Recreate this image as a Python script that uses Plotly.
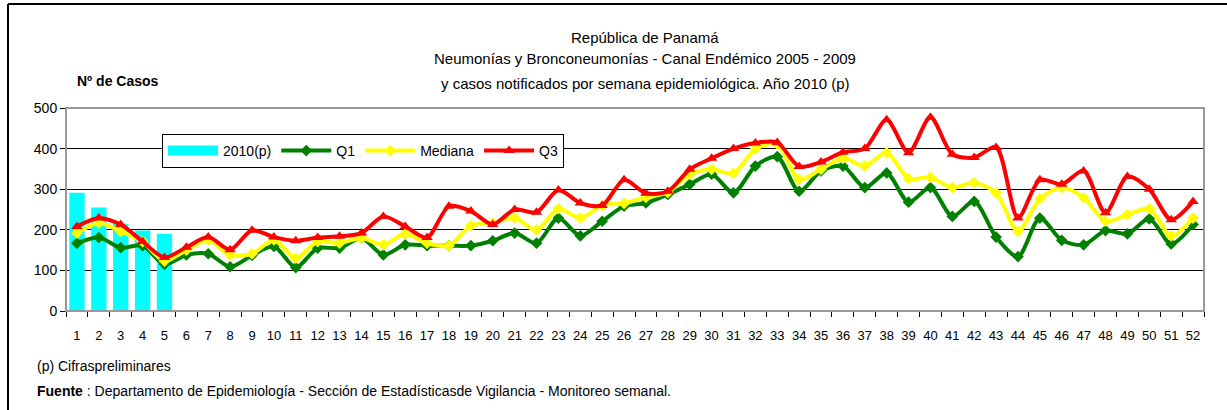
import plotly.graph_objects as go

weeks = [str(i) for i in range(1, 53)]

casos_2010 = [291, 255, 215, 198, 190]

q1 = [167, 181, 156, 161, 115, 138, 141, 109, 137, 159,
      107, 155, 155, 180, 138, 163, 161, 161, 161, 173,
      192, 167, 229, 185, 221, 258, 266, 287, 312, 337,
      291, 357, 380, 295, 345, 357, 304, 340, 268, 304,
      233, 270, 182, 134, 229, 174, 163, 198, 190, 227,
      165, 213]

mediana = [192, 217, 196, 171, 123, 150, 175, 138, 141, 175,
           130, 171, 167, 180, 163, 190, 167, 161, 210, 217,
           229, 199, 252, 229, 260, 265, 280, 292, 337, 349,
           339, 399, 411, 324, 349, 376, 357, 390, 326, 329,
           304, 316, 291, 196, 276, 304, 279, 221, 237, 252,
           185, 229]

q3 = [208, 229, 213, 171, 132, 157, 182, 151, 199, 182,
      173, 181, 184, 192, 233, 208, 181, 258, 246, 213,
      250, 243, 298, 266, 260, 323, 290, 295, 349, 376,
      400, 414, 415, 356, 367, 391, 400, 471, 390, 477,
      386, 378, 403, 229, 323, 312, 345, 242, 331, 300,
      225, 270]

title_lines = ["República de Panamá",
               "Neumonías y Bronconeumonías - Canal Endémico 2005 - 2009",
               "y casos notificados por semana epidemiológica. Año 2010 (p)"]

W, H = 1227, 410
L, R, T, B = 66, 1204, 108, 311

def px(x):
    return (x - L) / (R - L)

def py(y):
    return (B - y) / (B - T)

FONT = "Liberation Sans, Arial, sans-serif"

fig = go.Figure()
fig.add_trace(go.Bar(x=weeks[:len(casos_2010)], y=casos_2010, name="2010(p)",
                     marker=dict(color="#00FFFF", line=dict(width=0)), showlegend=False,
                     legendgroup="b"))
# legend entry with a wide swatch like the original
fig.add_trace(go.Scatter(x=[None], y=[None], name="2010(p)", mode="lines",
                         line=dict(color="#00FFFF", width=12), legendgroup="b"))
fig.add_trace(go.Scatter(x=weeks, y=q1, name="Q1", mode="lines+markers",
                         line=dict(color="#008000", width=4, shape="spline", smoothing=0.8),
                         marker=dict(symbol="diamond", size=9, color="#008000")))
fig.add_trace(go.Scatter(x=weeks, y=mediana, name="Mediana", mode="lines+markers",
                         line=dict(color="#FFFF00", width=4, shape="spline", smoothing=0.8),
                         marker=dict(symbol="diamond", size=9, color="#FFFF00")))
fig.add_trace(go.Scatter(x=weeks, y=q3, name="Q3", mode="lines+markers",
                         line=dict(color="#FF0000", width=4, shape="spline", smoothing=0.8),
                         marker=dict(symbol="triangle-up", size=10, color="#FF0000")))

annotations = []
for t, yy in zip(title_lines, [37, 59, 83]):
    annotations.append(dict(text=t, x=px(645), y=py(yy), xref="paper", yref="paper",
                            showarrow=False, xanchor="center", yanchor="middle",
                            font=dict(size=15, color="black", family=FONT)))
annotations.append(dict(text="<b>Nº de Casos</b>", x=px(75), y=py(81), xref="paper", yref="paper",
                        showarrow=False, xanchor="left", yanchor="middle",
                        font=dict(size=14, color="black", family=FONT)))
annotations.append(dict(text="(p) Cifraspreliminares", x=px(35), y=py(366), xref="paper", yref="paper",
                        showarrow=False, xanchor="left", yanchor="middle",
                        font=dict(size=14, color="black", family=FONT)))
annotations.append(dict(text="<b>Fuente</b> : Departamento de Epidemiología - Sección de Estadísticasde Vigilancia - Monitoreo semanal.",
                        x=px(35), y=py(391), xref="paper", yref="paper",
                        showarrow=False, xanchor="left", yanchor="middle",
                        font=dict(size=14, color="black", family=FONT)))

shapes = [
    dict(type="rect", xref="paper", yref="paper", x0=0, x1=1, y0=0, y1=1,
         line=dict(color="#999999", width=2), layer="above"),
    dict(type="line", xref="paper", yref="paper", x0=px(8), x1=px(1227), y0=py(4), y1=py(4),
         line=dict(color="black", width=2)),
    dict(type="line", xref="paper", yref="paper", x0=px(8), x1=px(8), y0=py(4), y1=py(410),
         line=dict(color="black", width=2)),
]

fig.update_layout(
    width=W, height=H,
    margin=dict(l=L, r=W - R, t=T, b=H - B, pad=0),
    paper_bgcolor="white", plot_bgcolor="white",
    font=dict(family=FONT, color="black", size=13),
    bargap=0.3,
    showlegend=True,
    legend=dict(orientation="h", x=px(162), y=py(134), xanchor="left", yanchor="top",
                bgcolor="white", bordercolor="black", borderwidth=1,
                font=dict(size=14, family=FONT, color="black"),
                itemwidth=50, traceorder="normal"),
    annotations=annotations,
    shapes=shapes,
    xaxis=dict(type="category", showgrid=False, showline=True, linecolor="#333333", linewidth=1,
               ticks="outside", tickson="boundaries", ticklen=5, tickcolor="black",
               tickangle=0, ticklabelstandoff=12,
               tickfont=dict(size=13, color="black"), range=[-0.5, 51.5], fixedrange=True),
    yaxis=dict(range=[0, 500], dtick=100, showgrid=True, gridcolor="black", gridwidth=1,
               showline=True, linecolor="black", linewidth=1, ticks="outside", ticklen=5,
               tickcolor="black", tickfont=dict(size=14, color="black"), zeroline=False),
)

fig.write_html("out.html", config={"displayModeBar": False},
               post_script="document.body.style.margin='0px';document.body.style.overflow='hidden';")
